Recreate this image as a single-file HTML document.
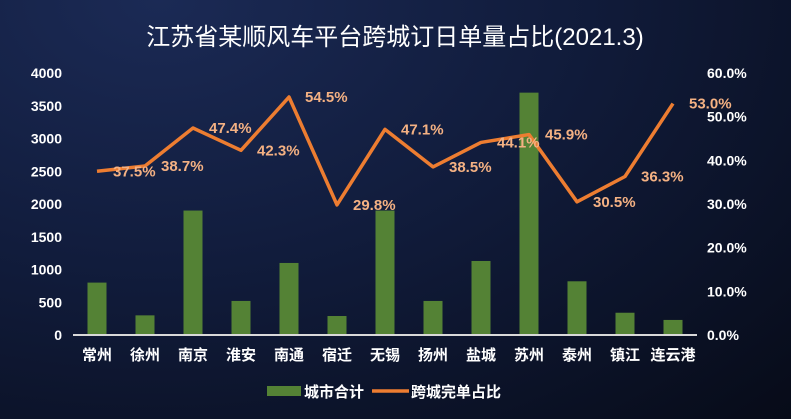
<!DOCTYPE html>
<html><head><meta charset="utf-8">
<style>
html,body{margin:0;padding:0;}
body{width:791px;height:419px;overflow:hidden;background:radial-gradient(ellipse at 20% 0%,#1b2a55 0%,#111c3c 45%,#070b18 100%);font-family:"Liberation Sans","Noto Sans CJK SC",sans-serif;}
svg{display:block}
</style></head>
<body>
<svg id="chart" width="791" height="419"></svg>
<script>
const categories=["常州","徐州","南京","淮安","南通","宿迁","无锡","扬州","盐城","苏州","泰州","镇江","连云港"];
const barValues=[800,300,1900,520,1100,290,1900,520,1130,3700,820,340,230];
const ratioValues=[37.5,38.7,47.4,42.3,54.5,29.8,47.1,38.5,44.1,45.9,30.5,36.3,53.0];
const leftTicks=[0,500,1000,1500,2000,2500,3000,3500,4000];
const rightTicks=[0,10,20,30,40,50,60];
const NS="http://www.w3.org/2000/svg";
const svg=document.getElementById('chart');
const x0=73,x1=697,yb=335,yt=73;
const step=(x1-x0)/categories.length;
function xc(i){return x0+step*(i+0.5);}
function yL(v){return yb-(v/4000)*(yb-yt);}
function yR(v){return yb-(v/60)*(yb-yt);}
function mk(tag,attrs,txt){const e=document.createElementNS(NS,tag);for(const k in attrs)e.setAttribute(k,attrs[k]);if(txt!==undefined)e.textContent=txt;svg.appendChild(e);return e;}
let t=mk('text',{x:395,y:45,fill:'#fff','font-size':24,'text-anchor':'middle'},'江苏省某顺风车平台跨城订日单量占比(2021.3)');


leftTicks.forEach(v=>{const e=mk('text',{x:62,y:yL(v)+5,fill:'#fff','font-size':14,'font-weight':'bold','text-anchor':'end'},String(v));

});
rightTicks.forEach(v=>{const e=mk('text',{x:707,y:yR(v)+5,fill:'#fff','font-size':14,'font-weight':'bold'},v.toFixed(1)+'%');

});
barValues.forEach((v,i)=>{const e=mk('rect',{x:xc(i)-9.5,y:yL(v),width:19,height:yb-yL(v),fill:'#548235'});

});
const ax=mk('line',{x1:x0,y1:yb,x2:x1,y2:yb,stroke:'#d9d9d9','stroke-width':2});


categories.forEach((c,i)=>{const e=mk('text',{x:xc(i),y:360,fill:'#fff','font-size':15,'font-weight':'bold','text-anchor':'middle'},c);

});
const pts=ratioValues.map((v,i)=>xc(i)+','+yR(v)).join(' ');
const pl=mk('polyline',{points:pts,fill:'none',stroke:'#ed7d31','stroke-width':3.5,'stroke-linejoin':'round'});


ratioValues.forEach((v,i)=>{const e=mk('text',{x:xc(i)+16,y:yR(v)+5,fill:'#f4b183','font-size':15,'font-weight':'bold'},v.toFixed(1)+'%');

});
const lg1=mk('rect',{x:267,y:386,width:34,height:10,fill:'#548235'});


const lt1=mk('text',{x:304,y:397,fill:'#fff','font-size':15,'font-weight':'bold'},'城市合计');


const lg2=mk('line',{x1:372,y1:391,x2:409,y2:391,stroke:'#ed7d31','stroke-width':3.5});


const lt2=mk('text',{x:411,y:397,fill:'#fff','font-size':15,'font-weight':'bold'},'跨城完单占比');


</script>
</body></html>
